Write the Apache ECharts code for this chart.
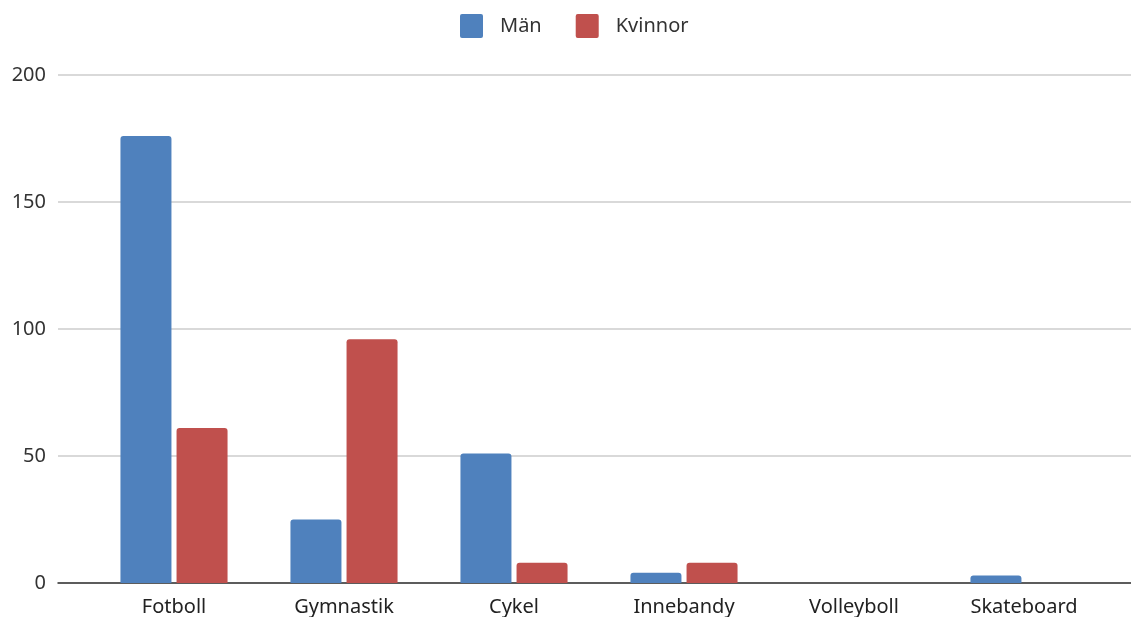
<!DOCTYPE html>
<html>
<head>
<meta charset="utf-8">
<script src="https://cdn.jsdelivr.net/npm/echarts@6/dist/echarts.min.js"></script>
<style>html,body{margin:0;padding:0;background:#fff}#c{width:1131px;height:617px}</style>
</head>
<body>
<div id="c"></div>
<script>
const categories = ['Fotboll', 'Gymnastik', 'Cykel', 'Innebandy', 'Volleyboll', 'Skateboard'];
const seriesNames = ['Män', 'Kvinnor'];
const manValues = [176, 25, 51, 4, 0, 3];
const kvinnorValues = [61, 96, 8, 8, 0, 0];
const yTicks = [0, 50, 100, 150, 200];

const FONT = '"Noto Sans", "Open Sans", sans-serif';
const chart = echarts.init(document.getElementById('c'), null, {renderer: 'canvas'});
chart.setOption({
  animation: false,
  textStyle: {fontFamily: FONT},
  legend: {
    top: 9, left: 455,
    itemWidth: 23, itemHeight: 24, itemGap: 34,
    icon: 'path://M2,0 L21,0 Q23,0 23,2 L23,22 Q23,24 21,24 L2,24 Q0,24 0,22 L0,2 Q0,0 2,0 Z',
    textStyle: {fontSize: 20, color: '#333', fontFamily: FONT, padding: [0, 0, 0, 12]},
    data: seriesNames
  },
  grid: [
    {left: 58, right: 0, top: 75, bottom: 34},
    {left: 89, right: 22, top: 75, bottom: 34}
  ],
  xAxis: [
    {gridIndex: 0, type: 'value', min: 0, max: 1, show: true,
     axisLine: {show: true, onZero: false, lineStyle: {color: '#333', width: 1.5}},
     axisTick: {show: false}, axisLabel: {show: false}, splitLine: {show: false}},
    {gridIndex: 1, type: 'category', data: categories,
     axisLine: {show: false}, axisTick: {show: false},
     axisLabel: {fontSize: 20, color: '#222', margin: 14, fontFamily: FONT}}
  ],
  yAxis: [
    {gridIndex: 0, type: 'value', min: yTicks[0], max: yTicks[yTicks.length - 1], interval: 50,
     axisLine: {show: false}, axisTick: {show: false},
     axisLabel: {fontSize: 20, color: '#333', margin: 12, fontFamily: FONT},
     splitLine: {lineStyle: {color: '#cccccc', width: 1.5}}},
    {gridIndex: 1, type: 'value', min: yTicks[0], max: yTicks[yTicks.length - 1], interval: 50, show: false,
     splitLine: {show: false}}
  ],
  series: [
    {name: seriesNames[0], type: 'bar', xAxisIndex: 1, yAxisIndex: 1, data: manValues,
     barGap: '10%', barCategoryGap: '37%',
     itemStyle: {color: '#4f81bd', borderRadius: [3, 3, 0, 0]}},
    {name: seriesNames[1], type: 'bar', xAxisIndex: 1, yAxisIndex: 1, data: kvinnorValues,
     barGap: '10%', barCategoryGap: '37%',
     itemStyle: {color: '#c0504d', borderRadius: [3, 3, 0, 0]}}
  ]
});
</script>
</body>
</html>
